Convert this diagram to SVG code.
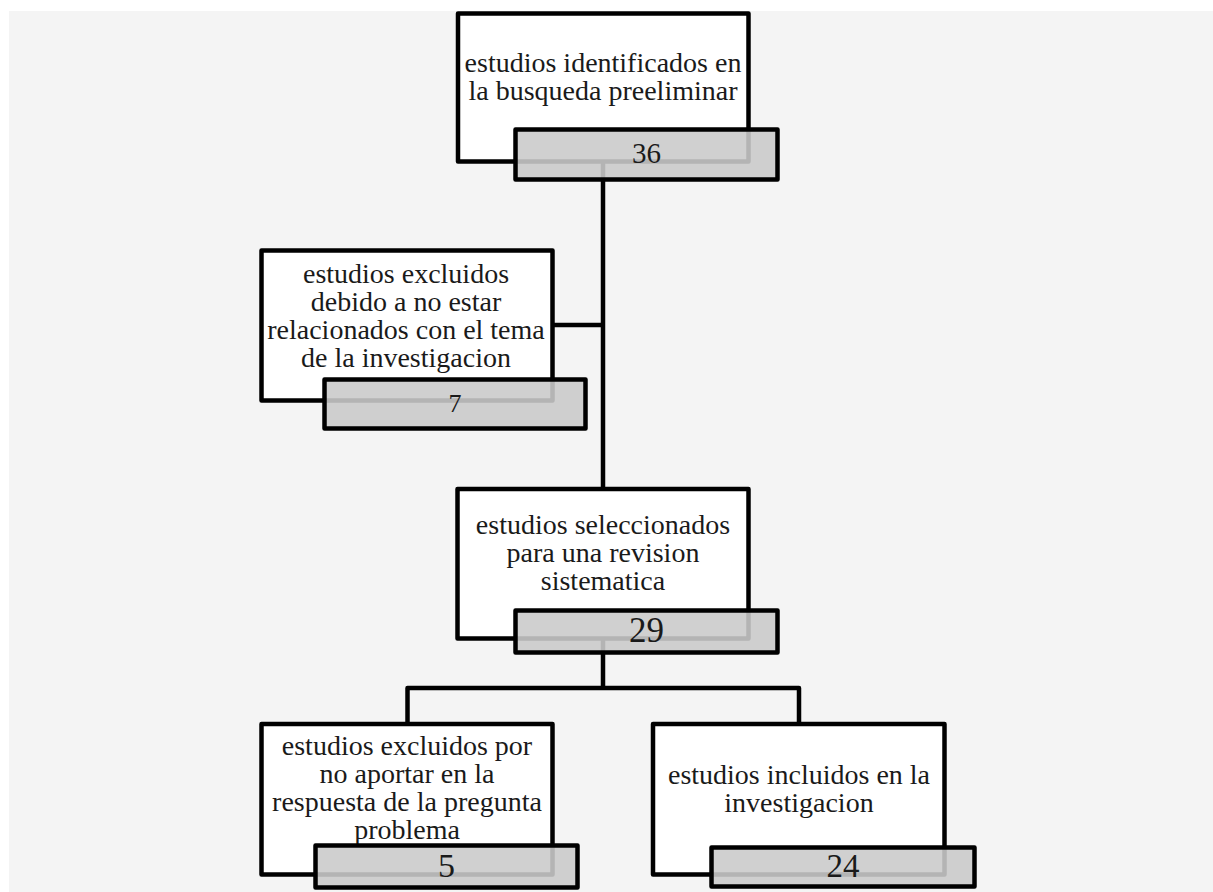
<svg xmlns="http://www.w3.org/2000/svg" width="1213" height="892" viewBox="0 0 1213 892">
<style>
.box{fill:#ffffff;stroke:#000;stroke-width:4.5;stroke-linejoin:round}
.num{fill:#cacaca;fill-opacity:0.89;stroke:#000;stroke-width:4.5;stroke-linejoin:round}
.lbl{font-family:"Liberation Serif","Times New Roman",serif;font-size:28px;fill:#1a1a1a;text-anchor:middle}
.val{font-family:"Liberation Serif","Times New Roman",serif;fill:#1a1a1a;text-anchor:middle}
.conn{fill:none;stroke:#000;stroke-width:4.5;stroke-linejoin:round}
</style>
<rect x="0" y="0" width="1213" height="892" fill="#ffffff"/>
<rect x="9" y="11" width="1204" height="881" fill="#f4f4f4"/>
<g id="connectors">
<path class="conn" d="M603,161 V489"/>
<path class="conn" d="M552,325 H603"/>
<path class="conn" d="M603,638 V688"/>
<path class="conn" d="M407.5,724 V688 H799 V724"/>
</g>
<g id="node-identificados">
<rect class="box" x="458" y="13.5" width="290.5" height="148"/>
<text class="lbl" x="603" y="72">estudios identificados en</text>
<text class="lbl" x="603" y="100">la busqueda preeliminar</text>
<rect class="num" x="515.5" y="129.5" width="262" height="50"/>
<text class="val" x="646.5" y="163" font-size="29">36</text>
</g>
<g id="node-excluidos-tema">
<rect class="box" x="261.5" y="250.5" width="291" height="150"/>
<text class="lbl" x="406" y="283">estudios excluidos</text>
<text class="lbl" x="406" y="311">debido a no estar</text>
<text class="lbl" x="406" y="339">relacionados con el tema</text>
<text class="lbl" x="406" y="367">de la investigacion</text>
<rect class="num" x="324.5" y="379.5" width="261" height="49"/>
<text class="val" x="455" y="412" font-size="26">7</text>
</g>
<g id="node-seleccionados">
<rect class="box" x="457.5" y="489" width="291" height="149.5"/>
<text class="lbl" x="603" y="534">estudios seleccionados</text>
<text class="lbl" x="603" y="562">para una revision</text>
<text class="lbl" x="603" y="590">sistematica</text>
<rect class="num" x="515.5" y="610.5" width="262" height="42"/>
<text class="val" x="646.5" y="642" font-size="35">29</text>
</g>
<g id="node-excluidos-pregunta">
<rect class="box" x="261.5" y="724" width="291" height="150.5"/>
<text class="lbl" x="407" y="755">estudios excluidos por</text>
<text class="lbl" x="407" y="783">no aportar en la</text>
<text class="lbl" x="407" y="811">respuesta de la pregunta</text>
<text class="lbl" x="407" y="839">problema</text>
<rect class="num" x="315.5" y="845.5" width="262" height="42"/>
<text class="val" x="446.5" y="877" font-size="34">5</text>
</g>
<g id="node-incluidos">
<rect class="box" x="653" y="724" width="291.5" height="150.5"/>
<text class="lbl" x="799" y="784">estudios incluidos en la</text>
<text class="lbl" x="799" y="812">investigacion</text>
<rect class="num" x="711.5" y="847.5" width="263" height="39"/>
<text class="val" x="843" y="877" font-size="33">24</text>
</g>
</svg>
